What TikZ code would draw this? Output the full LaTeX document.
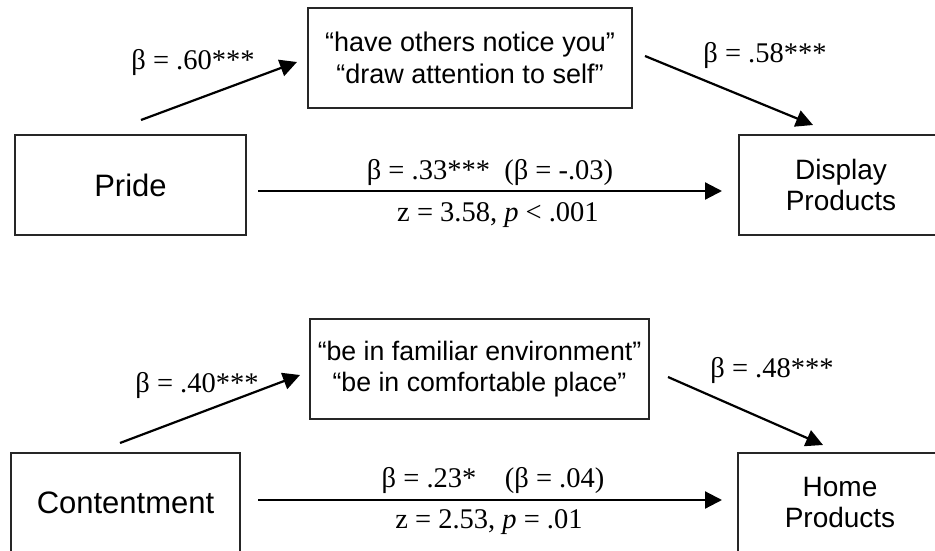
\documentclass[tikz,border=0pt]{standalone}
\usepackage{fontspec}
\setmainfont{Liberation Serif}
\newfontfamily\arialfont{Liberation Sans}
\usetikzlibrary{arrows.meta}
\tikzset{box/.style={draw=black!85, line width=1.6pt, inner sep=0pt, align=center,
  font=\arialfont\fontsize{28}{31}\selectfont}}
\tikzset{path/.style={line width=2.2pt, -{Triangle[length=17pt,width=17pt]}}}
\tikzset{coef/.style={inner sep=0pt, font=\fontsize{28.5}{30}\selectfont}}

\begin{document}
\begin{tikzpicture}[x=1pt, y=-1pt]
      \useasboundingbox (0,0) rectangle (935,551);
      \clip (0,0) rectangle (935,551);

      % pride -> display products
      \node [box, minimum width=231pt, minimum height=100pt, font=\arialfont\fontsize{31}{31}\selectfont] (pride) at (130.5,185) {Pride};
      \node [box, minimum width=324pt, minimum height=100pt, font=\arialfont\fontsize{27}{32}\selectfont] (show) at (470,58) {“have others notice you”\\“draw attention to self”};
      \node [box, minimum width=204pt, minimum height=100pt] (display) at (841,185) {Display\\Products};

      \coordinate (s1) at (141,120);
      \coordinate (e1) at (297,62);
      \coordinate (s2) at (645,56);
      \coordinate (e2) at (813,125);
      \coordinate (s3) at (258,191);
      \coordinate (e3) at (722,191);
      \draw [path] (s1) -- (e1);
      \draw [path] (s2) -- (e2);
      \draw [path] (s3) -- (e3);

      \node [coef] (b1) at (193,63) {β = .60***};
      \node [coef] (b2) at (765,56) {β = .58***};
      \node [coef] (b3) at (490,172) {β = .33***\hspace{0.5em}(β = -.03)};
      \node [coef] (z1) at (498,215) {z = 3.58, \textit{p} < .001};

      % contentment -> home products
      \node [box, minimum width=229pt, minimum height=100pt, font=\arialfont\fontsize{31}{31}\selectfont] (content) at (125.5,503) {Contentment};
      \node [box, minimum width=339pt, minimum height=100pt, font=\arialfont\fontsize{26.7}{31}\selectfont] (place) at (479.5,369) {“be in familiar environment”\\“be in comfortable place”};
      \node [box, minimum width=204pt, minimum height=100pt] (home) at (840,503) {Home\\Products};

      \coordinate (s4) at (120,443);
      \coordinate (e4) at (300,375);
      \coordinate (s5) at (668,377);
      \coordinate (e5) at (823,445);
      \coordinate (s6) at (258,500);
      \coordinate (e6) at (722,500);
      \draw [path] (s4) -- (e4);
      \draw [path] (s5) -- (e5);
      \draw [path] (s6) -- (e6);

      \node [coef] (b4) at (197,385) {β = .40***};
      \node [coef] (b5) at (772,370) {β = .48***};
      \node [coef] (b6) at (493,480) {β = .23*\hspace{1em}(β = .04)};
      \node [coef] (z2) at (489,522) {z = 2.53, \textit{p} = .01};
\end{tikzpicture}
\end{document}
